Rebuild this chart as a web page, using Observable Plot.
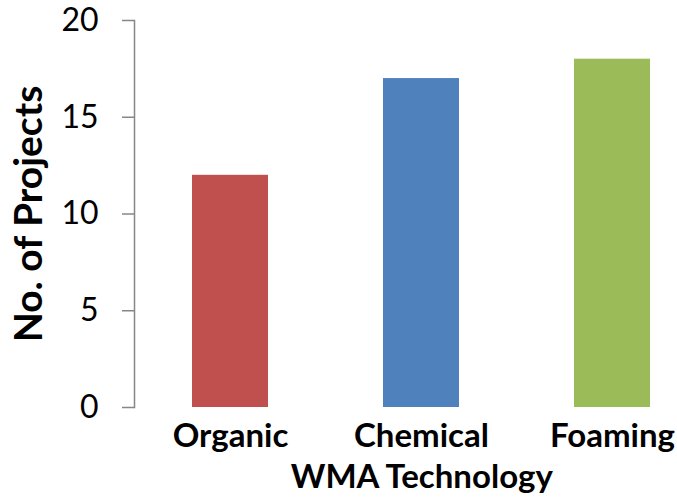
<!DOCTYPE html>
<html>
<head>
<meta charset="utf-8">
<script src="https://cdn.jsdelivr.net/npm/d3@7"></script>
<script src="https://cdn.jsdelivr.net/npm/@observablehq/plot@0.6"></script>
<style>
  html, body { margin: 0; padding: 0; background: #fff; }
  #chart svg { display: block; }
</style>
</head>
<body>
<div id="chart"></div>
<script>
// Number of warm-mix asphalt projects by technology
const technologies = ["Organic", "Chemical", "Foaming"];
const projectCounts = [12, 17, 18];
const barColors = ["#C0504D", "#4F81BD", "#9BBB59"];
const yTicks = [0, 5, 10, 15, 20];

const rows = technologies.map((t, i) => ({tech: t, count: projectCounts[i], color: barColors[i]}));

const chart = Plot.plot({
  width: 677,
  height: 503,
  marginLeft: 134,
  marginRight: -31.5,
  marginTop: 20,
  marginBottom: 96,
  style: {fontFamily: "Lato, sans-serif", background: "#fff", color: "#000"},
  x: {domain: technologies, paddingInner: 0.6, paddingOuter: 0.3},
  y: {domain: [0, 20]},
  marks: [
    Plot.barY(rows, {
      x: "tech", y: "count", fill: "color",
      style: "filter: drop-shadow(2px 2px 2px rgba(0,0,0,0.3))"
    }),
    Plot.frame({anchor: "left", stroke: "#868686", strokeWidth: 1.5}),
    // numeric ticks (regular weight)
    Plot.axisY({
      ticks: yTicks, tickSize: 12, tickPadding: 24, fontSize: 32,
      stroke: "#868686", strokeWidth: 1.5, strokeOpacity: 1,
      label: null
    }),
    // bold axis title on its own
    Plot.axisY({
      ticks: [], fontSize: 39, fontWeight: "bold",
      label: "No. of Projects", labelAnchor: "center", labelArrow: "none", labelOffset: 120
    }),
    Plot.axisX({
      tickSize: 0, tickPadding: 16, fontSize: 33, fontWeight: "bold",
      label: "WMA Technology", labelAnchor: "center", labelArrow: "none", labelOffset: 80
    })
  ]
});
document.getElementById("chart").append(chart);
</script>
</body>
</html>
